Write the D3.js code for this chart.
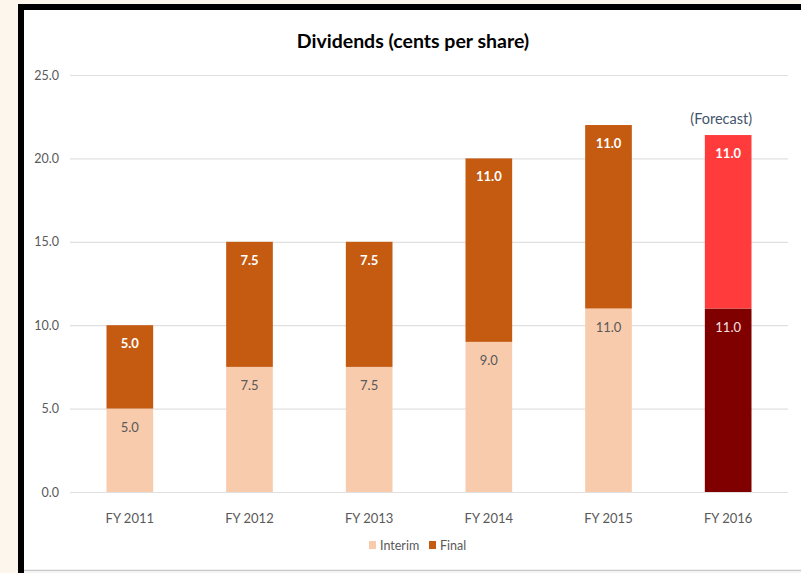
<!DOCTYPE html>
<html>
<head>
<meta charset="utf-8">
<script src="https://cdn.jsdelivr.net/npm/d3@7"></script>
<style>
  html, body { margin: 0; padding: 0; background: #fdf6ec; }
  svg { display: block; }
  text { font-family: Lato, "Open Sans", sans-serif; }
</style>
</head>
<body>
<svg width="801" height="573"></svg>
<script>
(function (d3) {
  'use strict';

  // chart values
  const years = ['FY 2011', 'FY 2012', 'FY 2013', 'FY 2014', 'FY 2015', 'FY 2016'];
  const interim = [5.0, 7.5, 7.5, 9.0, 11.0, 11.0];
  const finalDiv = [5.0, 7.5, 7.5, 11.0, 11.0, 10.4];   // forecast bar is drawn a bit short in the picture
  const interimLabels = ['5.0', '7.5', '7.5', '9.0', '11.0', '11.0'];
  const finalLabels = ['5.0', '7.5', '7.5', '11.0', '11.0', '11.0'];
  const yTicks = [0, 5, 10, 15, 20, 25];
  const legendItems = ['Interim', 'Final'];

  const svg = d3.select('svg');

  // frame: black top/left edge, white card
  svg.append('rect').attr('x', 18).attr('y', 4).attr('width', 783).attr('height', 569).attr('fill', '#000');
  svg.append('rect').attr('x', 24).attr('y', 10).attr('width', 777).attr('height', 560).attr('fill', '#fff');
  svg.append('line').attr('x1', 24).attr('x2', 801).attr('y1', 570.5).attr('y2', 570.5)
    .attr('stroke', '#c8c8c8').attr('stroke-width', 1.5);
  svg.append('rect').attr('x', 24).attr('y', 571).attr('width', 777).attr('height', 2).attr('fill', '#f4f4f4');

  const x = d3.scaleBand().domain(years).range([70, 788]).paddingInner(0.61).paddingOuter(0.305);
  const y = d3.scaleLinear().domain([0, 25]).range([492, 75]);

  // gridlines
  svg.append('g').selectAll('line')
    .data(yTicks)
    .enter().append('line')
    .attr('x1', 70).attr('x2', 788)
    .attr('y1', d => y(d) + 0.5).attr('y2', d => y(d) + 0.5)
    .attr('stroke', '#e0e0e0').attr('stroke-width', 1.2);

  // y axis labels
  svg.append('g').selectAll('text')
    .data(yTicks)
    .enter().append('text')
    .attr('x', 59).attr('y', d => y(d) + 4.5)
    .attr('text-anchor', 'end')
    .attr('font-size', 12.5).attr('fill', '#595959')
    .text(d => d.toFixed(1));

  // x axis labels
  svg.append('g').selectAll('text')
    .data(years)
    .enter().append('text')
    .attr('x', d => x(d) + x.bandwidth() / 2).attr('y', 523)
    .attr('text-anchor', 'middle')
    .attr('font-size', 13).attr('fill', '#595959')
    .text(d => d);

  const isForecast = i => i === years.length - 1;

  // interim segments
  svg.append('g').selectAll('rect')
    .data(interim)
    .enter().append('rect')
    .attr('x', (d, i) => x(years[i]))
    .attr('width', x.bandwidth())
    .attr('y', d => y(d))
    .attr('height', d => y(0) - y(d))
    .attr('fill', (d, i) => isForecast(i) ? '#800000' : '#f8cbad');

  // final segments stacked on top
  svg.append('g').selectAll('rect')
    .data(finalDiv)
    .enter().append('rect')
    .attr('x', (d, i) => x(years[i]))
    .attr('width', x.bandwidth())
    .attr('y', (d, i) => y(interim[i] + d))
    .attr('height', (d, i) => y(interim[i]) - y(interim[i] + d))
    .attr('fill', (d, i) => isForecast(i) ? '#ff3b3b' : '#c55a11');

  // data labels
  svg.append('g').selectAll('text')
    .data(interim)
    .enter().append('text')
    .attr('x', (d, i) => x(years[i]) + x.bandwidth() / 2)
    .attr('y', d => y(d) + 23)
    .attr('text-anchor', 'middle')
    .attr('font-size', 13)
    .attr('fill', (d, i) => isForecast(i) ? '#f6e0e0' : '#595959')
    .text((d, i) => interimLabels[i]);

  svg.append('g').selectAll('text')
    .data(finalDiv)
    .enter().append('text')
    .attr('x', (d, i) => x(years[i]) + x.bandwidth() / 2)
    .attr('y', (d, i) => y(interim[i] + d) + 23)
    .attr('text-anchor', 'middle')
    .attr('font-size', 13).attr('font-weight', 'bold')
    .attr('fill', '#fff')
    .text((d, i) => finalLabels[i]);

  // forecast note
  svg.append('text')
    .attr('x', x(years[5]) + x.bandwidth() / 2 - 7).attr('y', 124)
    .attr('text-anchor', 'middle')
    .attr('font-size', 14.5).attr('fill', '#44546a')
    .text('(Forecast)');

  // title
  svg.append('text')
    .attr('x', 413).attr('y', 48)
    .attr('text-anchor', 'middle')
    .attr('font-size', 19.5).attr('font-weight', 'bold').attr('fill', '#000')
    .text('Dividends (cents per share)');

  // legend
  const legendColors = ['#f8cbad', '#c55a11'];
  const legendX = [369, 429];
  const lg = svg.append('g').selectAll('g')
    .data(legendItems)
    .enter().append('g')
    .attr('transform', (d, i) => `translate(${legendX[i]},541)`);
  lg.append('rect').attr('width', 7).attr('height', 8).attr('fill', (d, i) => legendColors[i]);
  lg.append('text').attr('x', 11).attr('y', 8.5)
    .attr('font-size', 12.5).attr('fill', '#595959')
    .text(d => d);

}(d3));
</script>
</body>
</html>
